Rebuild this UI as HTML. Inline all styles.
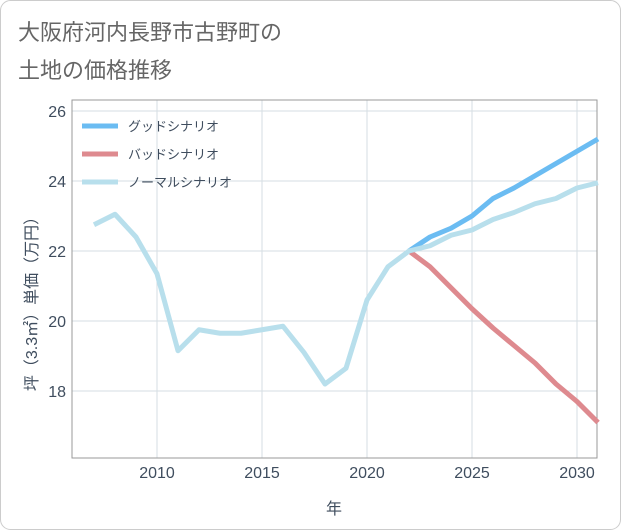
<!DOCTYPE html>
<html><head><meta charset="utf-8">
<style>
body{margin:0;background:#fff;}
svg{display:block;font-family:"Liberation Sans","Noto Sans CJK JP",sans-serif;}
</style></head>
<body>
<svg id="chart" width="621" height="530" viewBox="0 0 621 530">
<rect x="0.5" y="0.5" width="620" height="529" rx="10" fill="#fff" stroke="#ccc"/>
<text x="18" y="40" font-size="22" fill="#666">大阪府河内長野市古野町の</text>
<text x="18" y="78" font-size="22" fill="#666">土地の価格推移</text>
<g id="grid"></g>
<rect x="72" y="100" width="525" height="358" fill="none" stroke="#999" stroke-width="1"/>
<g id="series"></g>
<g id="ticks"></g>
<text x="334" y="514" font-size="16" fill="#3f4d5e" text-anchor="middle">年</text>
<text transform="translate(37,300) rotate(-90)" font-size="16" fill="#3f4d5e" text-anchor="middle">坪（3.3㎡）単価（万円）</text>
<g id="legend"></g>
</svg>
<script>
const years=[2007,2008,2009,2010,2011,2012,2013,2014,2015,2016,2017,2018,2019,2020,2021,2022,2023,2024,2025,2026,2027,2028,2029,2030,2031];
const normalVals=[22.75,23.05,22.4,21.35,19.15,19.75,19.65,19.65,19.75,19.85,19.1,18.2,18.65,20.6,21.55,22.0,22.15,22.45,22.6,22.9,23.1,23.35,23.5,23.8,23.95];
const forecastYears=[2022,2023,2024,2025,2026,2027,2028,2029,2030,2031];
const goodVals=[22.0,22.4,22.65,23.0,23.5,23.8,24.15,24.5,24.85,25.2];
const badVals=[22.0,21.55,20.95,20.35,19.8,19.3,18.8,18.2,17.7,17.1];
const xTicks=[2010,2015,2020,2025,2030];
const yTicks=[18,20,22,24,26];
const NS='http://www.w3.org/2000/svg';
const X=y=>157+(y-2010)*21;
const Y=v=>111+(26-v)*35;
function mk(tag,attrs,parent){const e=document.createElementNS(NS,tag);for(const k in attrs)e.setAttribute(k,attrs[k]);document.getElementById(parent).appendChild(e);return e;}
xTicks.forEach(t=>{
  const l=mk('line',{x1:X(t),x2:X(t),y1:100,y2:458,stroke:'#d5dde3'},'grid');
  
  
  const tx=mk('text',{x:X(t),y:478,'font-size':16,fill:'#3f4d5e','text-anchor':'middle'},'ticks');
  tx.textContent=t;
  
  
});
yTicks.forEach(t=>{
  const l=mk('line',{x1:72,x2:597,y1:Y(t),y2:Y(t),stroke:'#d5dde3'},'grid');
  
  
  const tx=mk('text',{x:66,y:Y(t)+6,'font-size':16,fill:'#3f4d5e','text-anchor':'end'},'ticks');
  tx.textContent=t;
  
  
});
function line(xs,vs,color,name){
  const d=xs.map((x,i)=>(i?'L':'M')+X(x)+','+Y(vs[i])).join(' ');
  const p=mk('path',{d:d,fill:'none',stroke:color,'stroke-width':5,'stroke-linejoin':'round'},'series');
  
  
}
line(forecastYears,badVals,'#de8a8f','bad-scenario-line');
line(forecastYears,goodVals,'#6bbcf2','good-scenario-line');
line(years,normalVals,'#b8dfec','normal-scenario-line');
const leg=[['グッドシナリオ','#6bbcf2'],['バッドシナリオ','#de8a8f'],['ノーマルシナリオ','#b8dfec']];
leg.forEach((e,i)=>{
  const y=126+i*28;
  const l=mk('line',{x1:82,x2:118,y1:y,y2:y,stroke:e[1],'stroke-width':5},'legend');
  
  
  const t=mk('text',{x:128,y:y+5,'font-size':13,fill:'#3f4d5e'},'legend');
  t.textContent=e[0];
  
  
});
</script>
</body></html>
